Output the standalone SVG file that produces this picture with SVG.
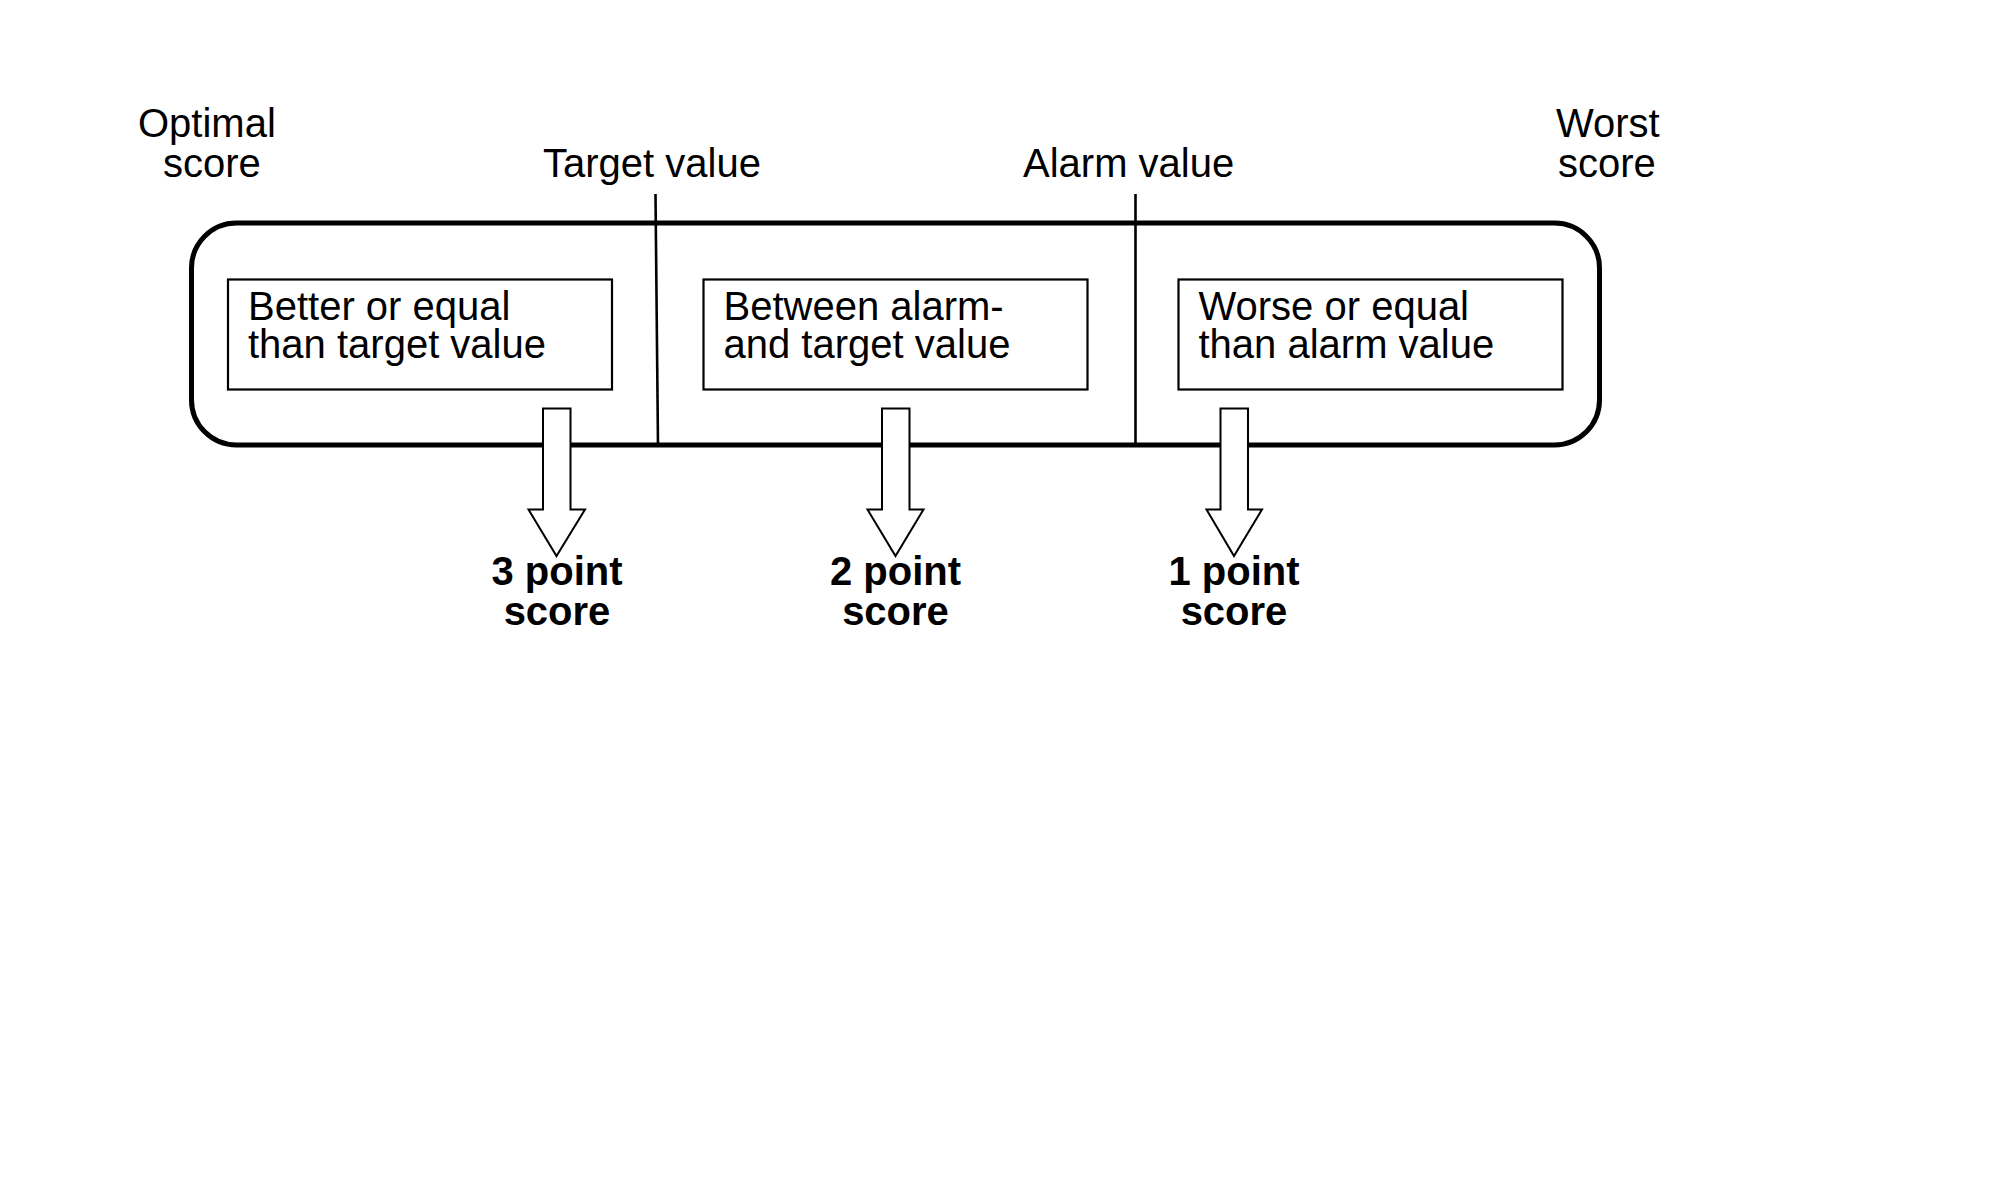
<svg xmlns="http://www.w3.org/2000/svg" width="2000" height="1194" viewBox="0 0 2000 1194">
<style>
text{font-family:"Liberation Sans",Arial,sans-serif;font-size:40px;fill:#000}
.b{font-weight:bold;text-anchor:middle}
.box{fill:#fff;stroke:#000;stroke-width:2.2}
.arrow{fill:#fff;stroke:#000;stroke-width:2;stroke-linejoin:miter}
.sep{stroke:#000;stroke-width:2.6;fill:none}
</style>
<rect width="2000" height="1194" fill="#fff"/>
<g id="scale">
<rect x="191.5" y="223" width="1408" height="222" rx="45" ry="45" fill="none" stroke="#000" stroke-width="5"/>
</g>
<g id="labels">
<text x="138" y="137">Optimal</text>
<text x="163" y="177">score</text>
<text x="543" y="177">Target value</text>
<text x="1023" y="177">Alarm value</text>
<text x="1556" y="137">Worst</text>
<text x="1558" y="177">score</text>
</g>
<g id="box1">
<rect class="box" x="228" y="279.5" width="384" height="110"/>
<text x="248" y="320">Better or equal</text>
<text x="248" y="358">than target value</text>
</g>
<g id="box2">
<rect class="box" x="703.5" y="279.5" width="384" height="110"/>
<text x="723.5" y="320">Between alarm-</text>
<text x="723.5" y="358">and target value</text>
</g>
<g id="box3">
<rect class="box" x="1178.5" y="279.5" width="384" height="110"/>
<text x="1198.5" y="320">Worse or equal</text>
<text x="1198.5" y="358">than alarm value</text>
</g>
<g id="connectors">
<line class="sep" x1="655.5" y1="194" x2="658" y2="445"/>
<line class="sep" x1="1135.5" y1="194" x2="1135.5" y2="445"/>
<polygon class="arrow" points="543,408.5 570.5,408.5 570.5,509.5 585,509.5 556.5,556 528.5,509.5 543,509.5"/>
<polygon class="arrow" points="882,408.5 909.5,408.5 909.5,509.5 923.5,509.5 895.5,556 867.5,509.5 882,509.5"/>
<polygon class="arrow" points="1220.5,408.5 1248,408.5 1248,509.5 1262,509.5 1234,556 1206.5,509.5 1220.5,509.5"/>
</g>
<g id="score3"><text class="b" x="557" y="585">3 point</text><text class="b" x="557" y="625">score</text></g>
<g id="score2"><text class="b" x="895.5" y="585">2 point</text><text class="b" x="895.5" y="625">score</text></g>
<g id="score1"><text class="b" x="1234" y="585">1 point</text><text class="b" x="1234" y="625">score</text></g>
</svg>
